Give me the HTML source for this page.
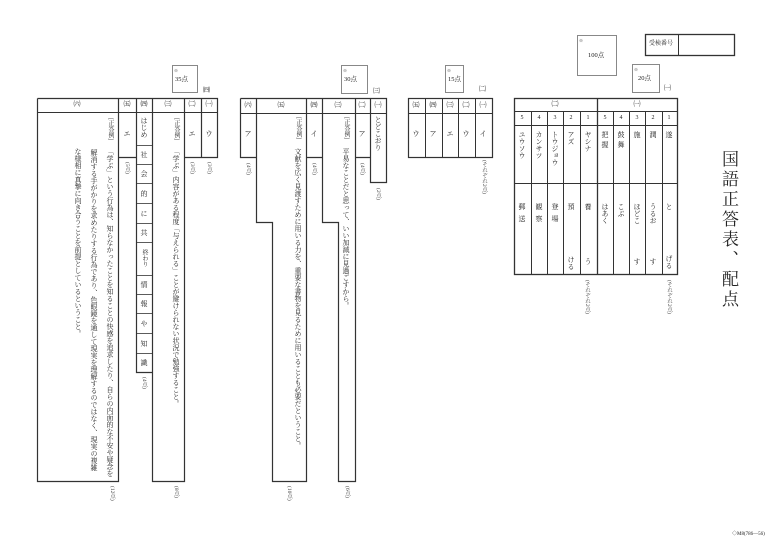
<!DOCTYPE html>
<html><head><meta charset="utf-8">
<style>
html,body{margin:0;padding:0;background:#fff;}
body{width:780px;height:551px;position:relative;overflow:hidden;font-family:"Liberation Serif","Noto Serif CJK SC","Noto Sans CJK JP",serif;color:#222;}
svg{position:absolute;left:0;top:0;}
.v{position:absolute;writing-mode:vertical-rl;white-space:nowrap;font-size:7px;line-height:7px;}
.s{position:absolute;white-space:nowrap;font-size:6px;line-height:7px;}
.h{position:absolute;font-size:7px;line-height:7px;width:16px;margin-left:-8px;text-align:center;}
.sc{position:absolute;writing-mode:vertical-rl;white-space:nowrap;font-size:5.5px;line-height:6px;color:#444;}
</style></head><body>
<svg width="780" height="551" viewBox="0 0 780 551" fill="none" stroke="#333" stroke-width="1">
<rect x="577.5" y="35.5" width="39" height="40" stroke="#888"/>
<rect x="645.5" y="34.5" width="89" height="21" stroke="#333" stroke-width="1.3"/>
<line x1="678.5" y1="35" x2="678.5" y2="55"/>
<rect x="632.5" y="64.5" width="27" height="28" stroke="#888"/>
<rect x="445.5" y="65.5" width="18" height="27" stroke="#888"/>
<rect x="341.5" y="65.5" width="26" height="28" stroke="#888"/>
<rect x="172.5" y="65.5" width="25" height="27" stroke="#888"/>
<rect x="514.5" y="98.5" width="163" height="176" stroke-width="1.3"/>
<line x1="514" y1="111.5" x2="677" y2="111.5"/>
<line x1="514" y1="125.5" x2="677" y2="125.5"/>
<line x1="514" y1="183.5" x2="677" y2="183.5"/>
<line x1="597.5" y1="98" x2="597.5" y2="275" stroke-width="1.3"/>
<g>
<line x1="531.5" y1="111" x2="531.5" y2="275"/><line x1="547.5" y1="111" x2="547.5" y2="275"/>
<line x1="563.5" y1="111" x2="563.5" y2="275"/><line x1="580.5" y1="111" x2="580.5" y2="275"/>
<line x1="613.5" y1="111" x2="613.5" y2="275"/><line x1="629.5" y1="111" x2="629.5" y2="275"/>
<line x1="645.5" y1="111" x2="645.5" y2="275"/><line x1="662.5" y1="111" x2="662.5" y2="275"/>
</g>
<rect x="408.5" y="98.5" width="84" height="59" stroke-width="1.2"/>
<line x1="408" y1="113.5" x2="492" y2="113.5"/>
<line x1="425.5" y1="98" x2="425.5" y2="157"/><line x1="442.5" y1="98" x2="442.5" y2="157"/>
<line x1="458.5" y1="98" x2="458.5" y2="157"/><line x1="475.5" y1="98" x2="475.5" y2="157"/>
<path d="M240.5 98.5 H386.5 V182.5 H370.5 V98.5 M240.5 98.5 V157.5 H256.5 V98.5 M256.5 98.5 V222.5 H272.5 V481.5 H306.5 V98.5 M306.5 157.5 H322.5 V98.5 M322.5 98.5 V222.5 H338.5 V481.5 H355.5 V98.5 M355.5 157.5 H370.5" stroke-width="1.2"/>
<line x1="240" y1="113.5" x2="386" y2="113.5"/>
<path d="M37.5 98.5 H217.5 V157.5 H201.5 V98.5 M37.5 98.5 V481.5 H118.5 V98.5 M118.5 157.5 H136.5 V98.5 M136.5 98.5 V372.5 H152.5 V98.5 M152.5 98.5 V481.5 H184.5 V98.5 M184.5 157.5 H201.5" stroke-width="1.2"/>
<line x1="37" y1="112.5" x2="217" y2="112.5"/>
<g stroke-width="0.8">
<line x1="136" y1="145.5" x2="152" y2="145.5"/><line x1="136" y1="164.5" x2="152" y2="164.5"/>
<line x1="136" y1="183.5" x2="152" y2="183.5"/><line x1="136" y1="203.5" x2="152" y2="203.5"/>
<line x1="136" y1="223.5" x2="152" y2="223.5"/><line x1="136" y1="242.5" x2="152" y2="242.5"/>
<line x1="136" y1="275.5" x2="152" y2="275.5"/><line x1="136" y1="294.5" x2="152" y2="294.5"/>
<line x1="136" y1="313.5" x2="152" y2="313.5"/><line x1="136" y1="333.5" x2="152" y2="333.5"/>
<line x1="136" y1="353.5" x2="152" y2="353.5"/>
</g>
</svg>

<div class="s" style="left:579px;top:37px;font-size:4px">※</div>
<div class="s" style="left:588px;top:52px;font-size:6.5px">100点</div>
<div class="s" style="left:649px;top:41px;font-size:6px">受検番号</div>
<div class="s" style="left:634px;top:66px;font-size:4px">※</div>
<div class="s" style="left:638px;top:75px;font-size:6.5px">20点</div>
<div class="s" style="left:664px;top:85px;font-size:7px">㈠</div>
<div class="s" style="left:447px;top:67px;font-size:4px">※</div>
<div class="s" style="left:448px;top:76px;font-size:6.5px">15点</div>
<div class="s" style="left:479px;top:86px;font-size:7px">㈡</div>
<div class="s" style="left:343px;top:67px;font-size:4px">※</div>
<div class="s" style="left:344px;top:76px;font-size:6.5px">30点</div>
<div class="s" style="left:373px;top:88px;font-size:7px">㈢</div>
<div class="s" style="left:174px;top:67px;font-size:4px">※</div>
<div class="s" style="left:175px;top:76px;font-size:6.5px">35点</div>
<div class="s" style="left:203px;top:87px;font-size:7px">㈣</div>

<div class="v" style="left:720px;top:150px;font-size:17px;line-height:17px;letter-spacing:3px">国語正答表、配点</div>
<div class="s" style="left:732px;top:531px;font-size:5px">◇M8(786—56)</div>

<div class="h" style="left:555px;top:101px">㈡</div>
<div class="h" style="left:637px;top:101px">㈠</div>
<div class="h" style="left:522px;top:115px;font-size:6px">5</div>
<div class="h" style="left:539px;top:115px;font-size:6px">4</div>
<div class="h" style="left:555px;top:115px;font-size:6px">3</div>
<div class="h" style="left:571px;top:115px;font-size:6px">2</div>
<div class="h" style="left:588px;top:115px;font-size:6px">1</div>
<div class="h" style="left:605px;top:115px;font-size:6px">5</div>
<div class="h" style="left:621px;top:115px;font-size:6px">4</div>
<div class="h" style="left:637px;top:115px;font-size:6px">3</div>
<div class="h" style="left:653px;top:115px;font-size:6px">2</div>
<div class="h" style="left:669px;top:115px;font-size:6px">1</div>
<div class="v" style="left:518px;top:131px">ユウソウ</div>
<div class="v" style="left:535px;top:131px">カンサツ</div>
<div class="v" style="left:551px;top:131px">トウジョウ</div>
<div class="v" style="left:567px;top:131px">アズ</div>
<div class="v" style="left:584px;top:131px">ヤシナ</div>
<div class="v" style="left:601px;top:131px;letter-spacing:3px">把握</div>
<div class="v" style="left:617px;top:131px;letter-spacing:3px">鼓舞</div>
<div class="v" style="left:633px;top:131px">施</div>
<div class="v" style="left:649px;top:131px">潤</div>
<div class="v" style="left:665px;top:131px">遂</div>
<div class="v" style="left:518px;top:203px;letter-spacing:5px">郵送</div>
<div class="v" style="left:535px;top:203px;letter-spacing:5px">観察</div>
<div class="v" style="left:551px;top:203px;letter-spacing:5px">登場</div>
<div class="v" style="left:567px;top:203px">預</div>
<div class="v" style="left:567px;top:256px">ける</div>
<div class="v" style="left:584px;top:203px">養</div>
<div class="v" style="left:584px;top:258px">う</div>
<div class="v" style="left:601px;top:203px">はあく</div>
<div class="v" style="left:617px;top:203px">こぶ</div>
<div class="v" style="left:633px;top:203px">ほどこ</div>
<div class="v" style="left:633px;top:258px">す</div>
<div class="v" style="left:649px;top:203px">うるお</div>
<div class="v" style="left:649px;top:258px">す</div>
<div class="v" style="left:665px;top:203px">と</div>
<div class="v" style="left:665px;top:255px">げる</div>
<div class="sc" style="left:584px;top:280px">(それぞれ2点)</div>
<div class="sc" style="left:666px;top:280px">(それぞれ2点)</div>

<div class="h" style="left:416px;top:102px">㈤</div>
<div class="h" style="left:433px;top:102px">㈣</div>
<div class="h" style="left:450px;top:102px">㈢</div>
<div class="h" style="left:466px;top:102px">㈡</div>
<div class="h" style="left:483px;top:102px">㈠</div>
<div class="h" style="left:416px;top:131px">ウ</div>
<div class="h" style="left:433px;top:131px">ア</div>
<div class="h" style="left:450px;top:131px">エ</div>
<div class="h" style="left:466px;top:131px">ウ</div>
<div class="h" style="left:483px;top:131px">イ</div>
<div class="sc" style="left:481px;top:160px">(それぞれ2点)</div>

<div class="h" style="left:248px;top:102px">㈥</div>
<div class="h" style="left:281px;top:102px">㈤</div>
<div class="h" style="left:314px;top:102px">㈣</div>
<div class="h" style="left:338px;top:102px">㈢</div>
<div class="h" style="left:362px;top:102px">㈡</div>
<div class="h" style="left:378px;top:102px">㈠</div>
<div class="h" style="left:248px;top:131px">ア</div>
<div class="h" style="left:314px;top:131px">イ</div>
<div class="h" style="left:362px;top:131px">ア</div>
<div class="v" style="left:374px;top:116px">とどこおり</div>
<div class="v" style="left:294px;top:117px;font-size:6px">[正答例]</div>
<div class="v" style="left:294px;top:148px">文献を広く見渡すために用いる力を、重要な書物を見るために用いることも必要だということ。</div>
<div class="v" style="left:342px;top:117px;font-size:6px">[正答例]</div>
<div class="v" style="left:342px;top:148px">平易なことだと思って、いい加減に見過ごすから。</div>
<div class="sc" style="left:245px;top:163px">(4点)</div>
<div class="sc" style="left:311px;top:163px">(4点)</div>
<div class="sc" style="left:359px;top:163px">(4点)</div>
<div class="sc" style="left:375px;top:188px">(2点)</div>
<div class="sc" style="left:286px;top:486px">(10点)</div>
<div class="sc" style="left:344px;top:486px">(6点)</div>

<div class="h" style="left:77px;top:101px">㈥</div>
<div class="h" style="left:127px;top:101px">㈤</div>
<div class="h" style="left:144px;top:101px">㈣</div>
<div class="h" style="left:168px;top:101px">㈢</div>
<div class="h" style="left:192px;top:101px">㈡</div>
<div class="h" style="left:209px;top:101px">㈠</div>
<div class="h" style="left:127px;top:131px">エ</div>
<div class="h" style="left:192px;top:131px">エ</div>
<div class="h" style="left:209px;top:131px">ウ</div>
<div class="v" style="left:140px;top:117px">はじめ</div>
<div class="v" style="left:140px;top:151px">社</div>
<div class="v" style="left:140px;top:170px">会</div>
<div class="v" style="left:140px;top:190px">的</div>
<div class="v" style="left:140px;top:210px">に</div>
<div class="v" style="left:140px;top:229px">共</div>
<div class="v" style="left:140px;top:249px;font-size:6px">終わり</div>
<div class="v" style="left:140px;top:281px">情</div>
<div class="v" style="left:140px;top:300px">報</div>
<div class="v" style="left:140px;top:320px">や</div>
<div class="v" style="left:140px;top:340px">知</div>
<div class="v" style="left:140px;top:359px">識</div>
<div class="v" style="left:172px;top:118px;font-size:6px">[正答例]</div>
<div class="v" style="left:172px;top:148px">「学ぶ」内容がある程度「与えられる」ことが避けられない状況で勉強すること。</div>
<div class="v" style="left:106px;top:118px;font-size:6px">[正答例]</div>
<div class="v" style="left:106px;top:148px">「学ぶ」という行為は、知らなかったことを知ることの快感を追求したり、自らの内面的な不安や疑念を</div>
<div class="v" style="left:90px;top:149px">解消する手がかりを求めたりする行為であり、色眼鏡を通して現実を理解するのではなく、現実の複雑</div>
<div class="v" style="left:74px;top:148px">な様相に真摯に向き合うことを前提としているということ。</div>
<div class="sc" style="left:124px;top:162px">(5点)</div>
<div class="sc" style="left:189px;top:162px">(3点)</div>
<div class="sc" style="left:206px;top:162px">(3点)</div>
<div class="sc" style="left:141px;top:377px">(4点)</div>
<div class="sc" style="left:109px;top:486px">(12点)</div>
<div class="sc" style="left:173px;top:486px">(8点)</div>
</body></html>
